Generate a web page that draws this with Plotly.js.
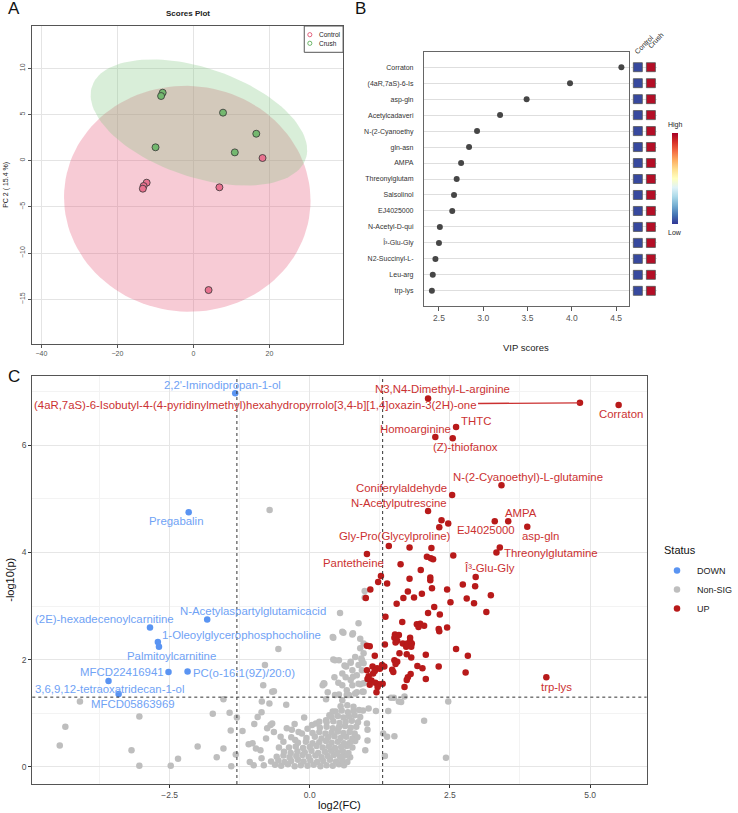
<!DOCTYPE html>
<html>
<head>
<meta charset="utf-8">
<script src="https://cdn.plot.ly/plotly-3.0.1.min.js"></script>
<style>html,body{margin:0;padding:0;background:#fff}#fig{width:738px;height:813px}</style>
</head>
<body>
<div id="fig"></div>
<script>
// ---- Panel A: PCA scores ----
var ctrlPC1 = [18.2, -12.3, -13.1, -13.3, 6.85, 4.0];
var ctrlPC2 = [0.29, -2.38, -2.74, -3.03, -2.88, -14.0];
var crushPC1 = [-8.08, -8.5, 7.8, 16.55, -9.96, 10.9];
var crushPC2 = [7.36, 7.0, 5.2, 2.92, 1.45, 0.9];

// ---- Panel B: VIP scores ----
var vipNames = ["Corraton", "(4aR,7aS)-6-Is", "asp-gln", "Acetylcadaveri", "N-(2-Cyanoethy",
  "gln-asn", "AMPA", "Threonylglutam", "Salsolinol", "EJ4025000", "N-Acetyl-D-qui",
  "Î³-Glu-Gly", "N2-Succinyl-L-", "Leu-arg", "trp-lys"];
var vipScores = [4.56, 3.98, 3.49, 3.19, 2.93, 2.84, 2.75, 2.70, 2.67, 2.65, 2.51, 2.50, 2.46, 2.43, 2.42];
var ctrlLevel = [0.03, 0.03, 0.03, 0.03, 0.03, 0.03, 0.03, 0.03, 0.03, 0.03, 0.03, 0.03, 0.03, 0.03, 0.03];
var crushLevel = [0.97, 0.97, 0.97, 0.97, 0.97, 0.97, 0.97, 0.97, 0.97, 0.97, 0.97, 0.97, 0.97, 0.97, 0.97];
var groups = ["Control", "Crush"];

// ---- Panel C: volcano ----
var upFC = [5.51, 4.82, 2.11, 2.61, 2.24, 2.55,
  3.42, 2.54, 2.11, 2.35, 2.47, 2.31, 3.30, 3.54, 3.88, 1.41, 1.78, 2.17,
  1.02, 2.09, 2.16, 2.20, 2.56, 3.39, 3.33,
  1.62, 1.98, 1.27, 1.78, 2.15, 2.15, 2.96,
  1.22, 1.38, 1.08, 2.18, 2.45, 2.73, 2.95,
  1.00, 1.67, 1.86, 2.00, 1.75, 3.23,
  1.55, 2.22, 2.51, 2.80, 2.93, 2.11, 2.32, 3.15,
  1.35, 1.65, 1.91, 1.97, 2.04, 1.94, 2.30, 2.31, 2.45,
  1.52, 1.59, 1.51, 1.79, 1.56, 1.53, 1.79, 1.66, 1.74, 1.82, 1.72, 1.81,
  1.02, 1.07, 1.34, 1.16, 1.60, 1.73, 2.07, 1.81, 2.61, 2.82,
  1.51, 1.56, 1.53, 1.29, 1.25, 1.33, 1.12, 1.20, 1.16, 1.13, 1.02, 1.05, 1.92, 2.01, 2.30, 2.78,
  1.47, 1.49, 1.80, 1.75, 1.73, 1.69, 2.07, 1.30, 1.23, 1.10, 1.17, 1.21, 1.03, 1.19, 1.07,
  4.22];
var upP = [6.75, 6.79, 6.87, 6.34, 6.15, 6.13,
  5.25, 5.07, 4.77, 4.60, 4.54, 4.47, 4.58, 4.58, 4.48, 4.12, 4.09, 4.08,
  3.97, 3.92, 3.89, 3.87, 3.94, 4.09, 4.00,
  3.78, 3.67, 3.56, 3.51, 3.53, 3.48, 3.54,
  3.45, 3.42, 3.31, 3.33, 3.31, 3.40, 3.37,
  3.15, 3.15, 3.16, 3.23, 3.27, 3.20,
  3.04, 2.98, 3.07, 3.14, 3.05, 2.87, 2.84, 2.89,
  2.80, 2.70, 2.66, 2.67, 2.63, 2.61, 2.57, 2.53, 2.60,
  2.47, 2.46, 2.41, 2.41, 2.35, 2.32, 2.35, 2.30, 2.30, 2.30, 2.24, 2.24,
  2.26, 2.25, 2.28, 2.07, 2.12, 2.10, 2.09, 2.04, 2.20, 2.07,
  1.99, 1.96, 1.92, 1.90, 1.83, 1.87, 1.87, 1.84, 1.79, 1.74, 1.80, 1.69, 1.88, 1.84, 1.87, 1.76,
  1.81, 1.77, 1.73, 1.67, 1.62, 1.49, 1.64, 1.55, 1.54, 1.61, 1.57, 1.49, 1.64, 1.39, 1.53,
  1.67];

var downFC = [-1.33, -2.16, -1.83, -2.85, -2.71, -2.69, -2.52, -2.18, -3.59, -3.41];
var downP = [6.97, 4.75, 2.75, 2.60, 2.33, 2.24, 1.77, 1.78, 1.60, 1.36];

var nsFC = [-4.46, -4.36, -4.10, -3.18, -3.04, -3.04, -2.48, -2.35, -2.00, -1.73,
  -1.66, -1.54, -1.54, -1.43, -1.41, -1.40, -1.32, -1.30, -1.20, -1.09,
  -1.07, -1.02, -1.00, -0.99, -0.96, -0.93, -0.88, -0.86, -0.86, -0.855,
  -0.83, -0.82, -0.80, -0.78, -0.76, -0.72, -0.716, -0.70, -0.67, -0.67,
  -0.64, -0.64, -0.56, -0.52, -0.42, -0.41, -0.32, -0.26, -0.20,
  0.54, 0.87, 0.42, 0.58, 0.77, 0.90, 0.90, 0.52, 0.73, 0.81,
  0.93, 0.96, 0.65, 0.76, 0.84, 0.23, 0.44, 0.58, 0.73, 0.90,
  0.84, 0.70, 0.52, 0.98, 0.98, 0.96, 0.96, 0.96, 0.96, 0.41,
  0.42, 0.62, 0.25, 0.29, 0.45, 0.64, 0.73, 0.92, 0.87, 0.93,
  0.58, 0.64, 0.77, 0.26, 0.51, 0.76, 0.87, 0.32, 0.45, 0.66,
  0.66, 0.81, 0.94, 0.60, 0.76, 0.11, 0.29, 0.35, 0.41, 0.58,
  1.05, 1.18, 1.40, 1.50, 1.63, 1.69, 1.38, 1.51, 1.34, 1.03,
  0.99, 2.47, 2.04, 2.43, 1.45, 1.59, 1.02, 1.03, 1.31,
  -0.47, -0.33, -0.14, -0.04, 0.04, 0.17, -0.27, -0.55, -0.10, 0.95,
  -0.62, -0.51, -0.39, -0.27, -0.16, -0.04, 0.07, 0.19, 0.30, 0.41, 0.52, 0.61,
  -0.69, -0.56, -0.45, -0.33, -0.21, -0.11, 0.01, 0.13, 0.24, 0.36, 0.47, 0.58, 0.67,
  -0.59, -0.47, -0.36, -0.24, -0.13, -0.02, 0.10, 0.21, 0.32, 0.43, 0.54, 0.63, 0.72,
  -0.46, -0.34, -0.22, -0.09, 0.03, 0.15, 0.27, 0.38, 0.49, 0.59, 0.69,
  -0.37, -0.25, -0.12, 0.00, 0.12, 0.23, 0.34, 0.45, 0.56, 0.66, 0.76,
  -0.21, -0.07, 0.05, 0.17, 0.29, 0.39, 0.50, 0.61, 0.72, 0.81,
  -0.06, 0.09, 0.21, 0.33, 0.44, 0.55, 0.65, 0.76, 0.85,
  0.05, 0.17, 0.28, 0.39, 0.50, 0.60, 0.71, 0.80,
  0.18, 0.30, 0.41, 0.52, 0.63, 0.73, 0.83,
  0.30, 0.42, 0.53, 0.64, 0.75, 0.86,
  0.39, 0.50, 0.60, 0.70, 0.80, 0.90,
  0.46, 0.57, 0.68, 0.78, 0.88,
  0.55, 0.67, 0.78];
var nsP = [0.40, 0.75, 1.22, 0.31, 0.94, 0.02, 0.02, 0.15, 0.38, 0.99,
  0.18, 1.26, 0.34, 1.01, 0.68, 0.01, 0.23, 0.92, 0.67, 0.42,
  0.09, 0.44, 0.03, 0.80, 0.34, 0.93, 0.31, 0.16, 1.02, 1.22,
  1.52, 0.03, 1.90, 0.53, 0.72, 1.18, 4.79, 0.78, 1.40, 0.81,
  1.41, 0.65, 2.20, 0.56, 1.16, 0.72, 0.69, 0.50, 0.65,
  2.87, 2.68, 2.41, 2.52, 2.49, 2.39, 2.21, 1.99, 1.96, 2.05,
  1.99, 2.30, 1.87, 1.80, 1.71, 1.52, 1.67, 1.52, 1.62, 1.54,
  1.39, 1.34, 1.35, 3.28, 3.16, 2.12, 1.93, 1.56, 1.40, 2.42,
  2.00, 1.89, 1.56, 1.26, 1.99, 1.88, 1.94, 2.02, 1.90, 1.80,
  1.74, 1.67, 1.68, 1.55, 1.57, 1.52, 1.55, 1.39, 1.34, 1.43,
  1.34, 1.37, 1.40, 2.50, 2.47, 0.81, 0.87, 0.96, 1.03, 1.24,
  1.09, 1.04, 1.04, 1.29, 1.21, 1.31, 0.56, 0.57, 0.20, 0.49,
  0.31, 1.22, 0.86, 0.17, 1.29, 1.22, 0.81, 0.69, 0.62,
  0.47, 0.55, 0.62, 0.71, 0.78, 0.84, 0.80, 0.36, 0.92, 1.05,
  0.04, 0.02, 0.05, 0.01, 0.03, 0.02, 0.04, 0.01, 0.03, 0.02, 0.05, 0.03,
  0.10, 0.12, 0.09, 0.11, 0.13, 0.10, 0.12, 0.09, 0.11, 0.13, 0.10, 0.12, 0.09,
  0.19, 0.21, 0.18, 0.20, 0.22, 0.19, 0.21, 0.18, 0.20, 0.22, 0.19, 0.21, 0.18,
  0.28, 0.26, 0.29, 0.27, 0.30, 0.26, 0.28, 0.30, 0.27, 0.29, 0.26,
  0.36, 0.38, 0.35, 0.37, 0.39, 0.36, 0.38, 0.35, 0.37, 0.39, 0.36,
  0.45, 0.47, 0.44, 0.46, 0.48, 0.45, 0.47, 0.44, 0.46, 0.48,
  0.54, 0.56, 0.53, 0.55, 0.57, 0.54, 0.56, 0.53, 0.55,
  0.63, 0.65, 0.62, 0.64, 0.66, 0.63, 0.65, 0.62,
  0.73, 0.75, 0.72, 0.74, 0.76, 0.73, 0.75,
  0.83, 0.85, 0.82, 0.84, 0.86, 0.83,
  0.93, 0.95, 0.92, 0.94, 0.96, 0.93,
  1.03, 1.05, 1.02, 1.04, 1.06,
  1.13, 1.15, 1.12];

var fcCut = 1.3, pCut = 1.3;

// ---- helpers ----
var W = 738, H = 813;
function fx(p) { return p / W; }
function fy(p) { return 1 - p / H; }
var FONT = "Liberation Sans, Arial, sans-serif";

// 95% data ellipse from the group's scores
function ellipse95(xs, ys) {
  var n = xs.length, mx = 0, my = 0, i;
  for (i = 0; i < n; i++) { mx += xs[i]; my += ys[i]; }
  mx /= n; my /= n;
  var sxx = 0, syy = 0, sxy = 0;
  for (i = 0; i < n; i++) {
    sxx += (xs[i] - mx) * (xs[i] - mx);
    syy += (ys[i] - my) * (ys[i] - my);
    sxy += (xs[i] - mx) * (ys[i] - my);
  }
  sxx /= (n - 1); syy /= (n - 1); sxy /= (n - 1);
  var tr = sxx + syy, det = sxx * syy - sxy * sxy;
  var d = Math.sqrt(tr * tr / 4 - det);
  var l1 = tr / 2 + d, l2 = tr / 2 - d;
  var ang = 0.5 * Math.atan2(2 * sxy, sxx - syy);
  var r = Math.sqrt(5.991);
  var ex = [], ey = [];
  for (var k = 0; k <= 120; k++) {
    var t = 2 * Math.PI * k / 120;
    var u = r * Math.sqrt(l1) * Math.cos(t), v = r * Math.sqrt(l2) * Math.sin(t);
    ex.push(mx + u * Math.cos(ang) - v * Math.sin(ang));
    ey.push(my + u * Math.sin(ang) + v * Math.cos(ang));
  }
  return {x: ex, y: ey};
}

var ctrlEll = ellipse95(ctrlPC1, ctrlPC2);
var crushEll = ellipse95(crushPC1, crushPC2);

var rdylbu = [[0, "#313695"], [0.1, "#4575b4"], [0.2, "#74add1"], [0.3, "#abd9e9"], [0.4, "#e0f3f8"],
  [0.5, "#ffffbf"], [0.6, "#fee090"], [0.7, "#fdae61"], [0.8, "#f46d43"], [0.9, "#d73027"], [1, "#a50026"]];

var vipRow = vipNames.map(function (_, i) { return vipNames.length - i; });
var heatX = [], heatY = [], heatC = [];
vipNames.forEach(function (_, i) {
  heatX.push(groups[0]); heatY.push(vipRow[i]); heatC.push(ctrlLevel[i]);
  heatX.push(groups[1]); heatY.push(vipRow[i]); heatC.push(crushLevel[i]);
});

var RED_PT = "#B81A1A", RED_TX = "#CB3131", BLUE_PT = "#5A94F2", BLUE_TX = "#6FA2F5", GREY_PT = "#BEBEBE";

var data = [
  // A
  {x: ctrlEll.x, y: ctrlEll.y, xaxis: "x", yaxis: "y", mode: "lines", fill: "toself",
   fillcolor: "rgba(228,82,115,0.3)", line: {width: 0}, showlegend: false, hoverinfo: "skip"},
  {x: crushEll.x, y: crushEll.y, xaxis: "x", yaxis: "y", mode: "lines", fill: "toself",
   fillcolor: "rgba(130,200,130,0.3)", line: {width: 0}, showlegend: false, hoverinfo: "skip"},
  {x: ctrlPC1, y: ctrlPC2, xaxis: "x", yaxis: "y", mode: "markers", showlegend: false,
   marker: {size: 7, color: "#E8728F", line: {color: "#333", width: 0.8}}},
  {x: crushPC1, y: crushPC2, xaxis: "x", yaxis: "y", mode: "markers", showlegend: false,
   marker: {size: 7, color: "#74B86F", line: {color: "#333", width: 0.8}}},
  // B
  {x: vipScores, y: vipRow, xaxis: "x2", yaxis: "y2", mode: "markers", showlegend: false,
   marker: {size: 6, color: "#464646"}},
  {x: heatX, y: heatY, xaxis: "x3", yaxis: "y2", mode: "markers", showlegend: false,
   marker: {symbol: "square", size: 9, color: heatC, cmin: 0, cmax: 1, colorscale: rdylbu,
     line: {color: "#555", width: 0.8}, showscale: true,
     colorbar: {x: fx(686.5), xanchor: "left", y: fy(178.7), yanchor: "middle", len: 90.7 / H,
       lenmode: "fraction", thickness: 6, thicknessmode: "pixels", outlinewidth: 0,
       showticklabels: false, ticks: "", xpad: 0, ypad: 0}}},
  // C
  {x: nsFC, y: nsP, xaxis: "x4", yaxis: "y4", mode: "markers", name: "Non-SIG", legendrank: 2,
   marker: {size: 6.5, color: GREY_PT}},
  {x: upFC, y: upP, xaxis: "x4", yaxis: "y4", mode: "markers", name: "UP", legendrank: 3,
   marker: {size: 6.5, color: RED_PT}},
  {x: downFC, y: downP, xaxis: "x4", yaxis: "y4", mode: "markers", name: "DOWN", legendrank: 1,
   marker: {size: 6.5, color: BLUE_PT}}
];

var volcanoLabels = [
  ["2,2'-Iminodipropan-1-ol", -1.56, 7.12, BLUE_TX],
  ["N3,N4-Dimethyl-L-arginine", 2.36, 7.04, RED_TX],
  ["THTC", 2.97, 6.455, RED_TX],
  ["Homoarginine", 1.89, 6.30, RED_TX],
  ["(Z)-thiofanox", 2.78, 5.96, RED_TX],
  ["Corraton", 5.555, 6.575, RED_TX],
  ["N-(2-Cyanoethyl)-L-glutamine", 3.90, 5.405, RED_TX],
  ["Coniferylaldehyde", 1.64, 5.205, RED_TX],
  ["N-Acetylputrescine", 1.59, 4.925, RED_TX],
  ["AMPA", 3.76, 4.74, RED_TX],
  ["EJ4025000", 3.14, 4.416, RED_TX],
  ["asp-gln", 4.12, 4.31, RED_TX],
  ["Gly-Pro(Glycylproline)", 1.515, 4.304, RED_TX],
  ["Threonylglutamine", 4.30, 3.993, RED_TX],
  ["Pantetheine", 0.778, 3.806, RED_TX],
  ["Î³-Glu-Gly", 3.20, 3.70, RED_TX],
  ["trp-lys", 4.41, 1.493, RED_TX],
  ["Pregabalin", -2.386, 4.59, BLUE_TX],
  ["N-Acetylaspartylglutamicacid", -1.02, 2.905, BLUE_TX],
  ["(2E)-hexadecenoylcarnitine", -3.67, 2.761, BLUE_TX],
  ["1-Oleoylglycerophosphocholine", -1.216, 2.463, BLUE_TX],
  ["Palmitoylcarnitine", -2.46, 2.065, BLUE_TX],
  ["MFCD22416941", -3.35, 1.767, BLUE_TX],
  ["PC(o-16:1(9Z)/20:0)", -1.178, 1.748, BLUE_TX],
  ["3,6,9,12-tetraoxatridecan-1-ol", -3.576, 1.45, BLUE_TX],
  ["MFCD05863969", -3.157, 1.17, BLUE_TX]
];
var LABEL_SIZE = 11.4;

var ann = [];
function paperText(text, px, py, opt) {
  opt = opt || {};
  ann.push({xref: "paper", yref: "paper", x: fx(px), y: fy(py), text: text, showarrow: false,
    xanchor: opt.xanchor || "center", yanchor: "middle", textangle: opt.angle || 0,
    font: {family: FONT, size: opt.size || 9, color: opt.color || "#222"}});
}
paperText("A", 14, 9, {size: 17, color: "#111"});
paperText("B", 368, 9, {size: 17, color: "#111"});
paperText("C", 14, 377, {size: 17, color: "#111"});
paperText("<b>Scores Plot</b>", 192, 14, {size: 8});
paperText("PC 2 ( 15.4 %)", 6, 185, {size: 7, angle: -90});
paperText("Control", 324, 34.7, {size: 6.5, xanchor: "left"});
paperText("Crush", 324, 43.3, {size: 6.5, xanchor: "left"});
paperText("VIP scores", 538, 347, {size: 9.5});
paperText("Control", 658, 44, {size: 7, angle: -45});
paperText("Crush", 670, 40, {size: 7, angle: -45});
paperText("High", 690, 125, {size: 7});
paperText("Low", 690, 232, {size: 7});
paperText("-log10(p)", 10, 580, {size: 11, angle: -90, color: "#111"});
paperText("log2(FC)", 347, 805, {size: 11, color: "#111"});
paperText("Status", 677, 550, {size: 11, xanchor: "left", color: "#111"});

volcanoLabels.forEach(function (l) {
  ann.push({xref: "x4", yref: "y4", x: l[1], y: l[2], text: l[0], showarrow: false,
    font: {family: FONT, size: LABEL_SIZE, color: l[3]}});
});
// long name, pulled away from its point with a segment
ann.push({xref: "x4", yref: "y4", x: upFC[1], y: upP[1], axref: "x4", ayref: "y4", ax: -0.976, ay: 6.75,
  text: "(4aR,7aS)-6-Isobutyl-4-(4-pyridinylmethyl)hexahydropyrrolo[3,4-b][1,4]oxazin-3(2H)-one",
  showarrow: true, arrowhead: 0, arrowwidth: 1.3, arrowcolor: RED_TX, standoff: 0,
  font: {family: FONT, size: LABEL_SIZE, color: RED_TX}});

var shapes = [
  {type: "line", xref: "x4", yref: "y4 domain", x0: -fcCut, x1: -fcCut, y0: 0, y1: 1,
   line: {color: "#333", width: 1, dash: "dot"}},
  {type: "line", xref: "x4", yref: "y4 domain", x0: fcCut, x1: fcCut, y0: 0, y1: 1,
   line: {color: "#333", width: 1, dash: "dot"}},
  {type: "line", xref: "x4 domain", yref: "y4", x0: 0, x1: 1, y0: pCut, y1: pCut,
   line: {color: "#333", width: 1, dash: "dot"}},
  // panel A legend box
  {type: "rect", xref: "paper", yref: "paper", x0: fx(311), x1: fx(350.7), y0: fy(52.3), y1: fy(26),
   line: {color: "#555", width: 1}, fillcolor: "#fff"},
  {type: "circle", xref: "paper", yref: "paper", x0: fx(314.6), x1: fx(318.8), y0: fy(36.8), y1: fy(32.6),
   line: {color: "#E0506F", width: 0.9}},
  {type: "circle", xref: "paper", yref: "paper", x0: fx(314.6), x1: fx(318.8), y0: fy(45.4), y1: fy(41.2),
   line: {color: "#5DAE58", width: 0.9}}
];

var axFont = {family: FONT, size: 7, color: "#555"};
var layout = {
  width: W, height: H,
  margin: {l: 0, r: 0, t: 0, b: 0},
  paper_bgcolor: "#fff", plot_bgcolor: "#fff",
  font: {family: FONT, color: "#333"},
  showlegend: true,
  legend: {x: fx(672), xanchor: "left", y: fy(556), yanchor: "top", bgcolor: "rgba(0,0,0,0)",
    font: {family: FONT, size: 9, color: "#222"}},
  xaxis: {domain: [fx(33), fx(350.7)], range: [-42.4, 39.4], anchor: "y",
    tickvals: [-40, -20, 0, 20], ticks: "outside", ticklen: 3, tickcolor: "#555", tickfont: axFont,
    showgrid: true, gridcolor: "#E4E4E4", zeroline: false,
    showline: true, mirror: true, linecolor: "#555", linewidth: 1},
  yaxis: {domain: [fy(344), fy(26)], range: [-19.84, 14.58], anchor: "x",
    tickvals: [-15, -10, -5, 0, 5, 10], tickangle: -90, ticks: "outside", ticklen: 3, tickcolor: "#555",
    tickfont: axFont, showgrid: true, gridcolor: "#E4E4E4", zeroline: false,
    showline: true, mirror: true, linecolor: "#555", linewidth: 1},
  xaxis2: {domain: [fx(433.3), fx(643.3)], range: [2.33, 4.65], anchor: "y2",
    tickvals: [2.5, 3, 3.5, 4, 4.5], tickformat: ".1f", ticks: "outside", ticklen: 4, tickcolor: "#555",
    tickfont: {family: FONT, size: 8.5, color: "#555"}, showgrid: false, zeroline: false,
    showline: true, mirror: true, linecolor: "#666", linewidth: 1},
  yaxis2: {domain: [fy(306), fy(51.7)], range: [0.05, 15.97], anchor: "x2",
    tickvals: vipRow, ticktext: vipNames, ticks: "outside", ticklen: 8, tickcolor: "rgba(0,0,0,0)",
    tickfont: {family: FONT, size: 7, color: "#333"}, showgrid: true, gridcolor: "#DEDEDE", zeroline: false,
    showline: true, mirror: true, linecolor: "#666", linewidth: 1},
  xaxis3: {domain: [fx(645.3), fx(672)], range: [-0.5, 1.5], anchor: "y2", type: "category",
    categoryorder: "array", categoryarray: groups, visible: false},
  xaxis4: {domain: [fx(33), fx(661)], range: [-4.95, 6.01], anchor: "y4",
    tickmode: "linear", tick0: 0, dtick: 2.5, tickformat: ".1f", ticks: "outside", ticklen: 3,
    tickcolor: "#333", tickfont: {family: FONT, size: 8.5, color: "#4D4D4D"},
    showgrid: true, gridcolor: "#E6E6E6", zeroline: false,
    minor: {tick0: 0, dtick: 1.25, showgrid: true, gridcolor: "#F3F3F3", ticks: ""},
    showline: true, mirror: true, linecolor: "#555", linewidth: 1},
  yaxis4: {domain: [fy(784), fy(376)], range: [-0.32, 7.29], anchor: "x4",
    tickmode: "linear", tick0: 0, dtick: 2, ticks: "outside", ticklen: 3,
    tickcolor: "#333", tickfont: {family: FONT, size: 8.5, color: "#4D4D4D"},
    showgrid: true, gridcolor: "#E6E6E6", zeroline: false,
    minor: {tick0: 0, dtick: 1, showgrid: true, gridcolor: "#F3F3F3", ticks: ""},
    showline: true, mirror: true, linecolor: "#555", linewidth: 1},
  annotations: ann,
  shapes: shapes
};

Plotly.newPlot("fig", data, layout, {displayModeBar: false, staticPlot: true});
</script>
</body>
</html>
